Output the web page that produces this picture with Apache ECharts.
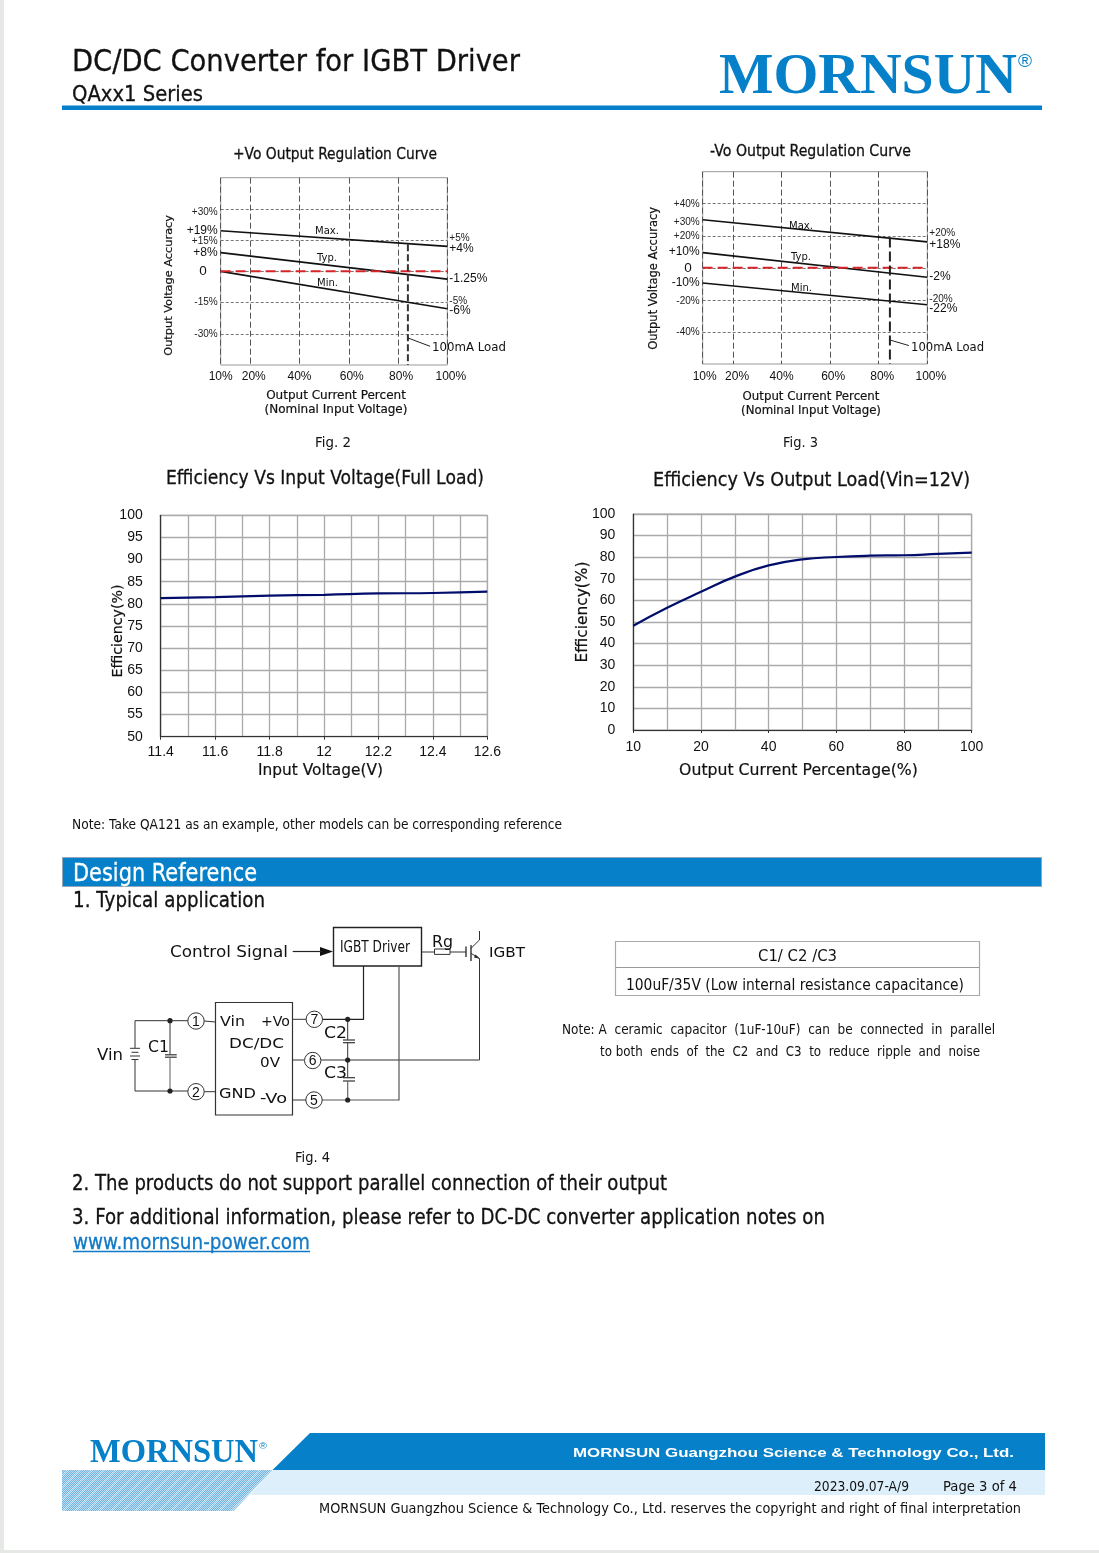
<!DOCTYPE html>
<html><head><meta charset="utf-8">
<style>html,body{margin:0;padding:0;background:#fff}#c{width:1099px;height:1553px}</style>
<script src="https://cdn.jsdelivr.net/npm/echarts@6/dist/echarts.min.js"></script>
</head><body><div id="c"></div>
<script>
// ---------- data ----------
const plusX = [8, 100];
const plusMax = [19.5, 12];
const plusTyp = [9, -3.75];
const plusMin = [0, -18];
const plusZero = [0, 0];
const plusLoadX = [84, 84];
const plusLoadY = [13, -45];
const plusLeaderX = [84, 93];
const plusLeaderY = [-32, -36];
const plusGridX = [8, 20, 40, 60, 80, 100];
const plusGridY = [-30, -15, 0, 15, 30];
const plusLeftAt = [28.6, 19.7, 14.6, 8.9, 0, -15, -30];
const plusLeftText = ['+30%', '+19%', '+15%', '+8%', '0', '-15%', '-30%'];
const plusRightAt = [15.9, 10.7, -3.6, -14.6, -19];
const plusRightText = ['+5%', '+4%', '-1.25%', '-5%', '-6%'];

const minusX = [7.5, 100];
const minusMax = [30, 16.2];
const minusTyp = [9.5, -5.9];
const minusMin = [-9.5, -23];
const minusZero = [0, 0];
const minusLoadX = [84.6, 84.6];
const minusLoadY = [19, -60];
const minusLeaderX = [84.6, 92.4];
const minusLeaderY = [-45, -48.5];
const minusGridX = [7.5, 20, 40, 60, 80, 100];
const minusGridY = [-40, -20, 0, 20, 40];
const minusLeftAt = [40, 28.6, 19.8, 10.3, 0, -9.2, -21, -40];
const minusLeftText = ['+40%', '+30%', '+20%', '+10%', '0', '-10%', '-20%', '-40%'];
const minusRightAt = [21.4, 14.6, -5.7, -19.5, -25.5];
const minusRightText = ['+20%', '+18%', '-2%', '-20%', '-22%'];

const vinX = [11.4, 11.6, 11.8, 12, 12.2, 12.4, 12.6];
const vinEff = [81.3, 81.5, 81.85, 82.05, 82.35, 82.45, 82.75];
const loadX = [0, 10, 20, 30, 40, 50, 60, 70, 80, 90, 100];
const loadEff = [48.3, 56.6, 64, 71, 76.2, 79, 80.1, 80.7, 80.9, 81.5, 82.1];

// ---------- helpers ----------
const FONT = 'DejaVu Sans', NUM = 'Liberation Sans', SERIF = 'Liberation Serif';
const BLUE = '#0680c9', INK = '#111';
const mctx = document.createElement('canvas').getContext('2d');
function measure(t, size, fam, w){ mctx.font = (w||'normal')+' '+size+'px "'+fam+'"'; return mctx.measureText(t).width; }
function fit(t, width, fam){ return width / measure(t, 100, fam||FONT) * 100; }
const g = [];
function T(t, x1, x2, cy, size, o){
  o = o || {};
  const fam = o.fam || FONT, fw = o.w || 'normal', col = o.c || INK;
  g.push({type:'text', x:x1, y:cy+4, scaleX:(x2-x1)/measure(t,size,fam,fw), silent:true, z:10,
    style:{text:t, font:fw+' '+size+'px "'+fam+'"', fill:col, align:'left', verticalAlign:'middle',
      stroke: fam===FONT && size>15.5 ? col : null, lineWidth: fam===FONT && size>15.5 ? 0.3 : 0}});
}
function L(pts, c, w, dash){
  g.push({type:'polyline', silent:true, z:9, shape:{points:pts}, style:{stroke:c||'#333', lineWidth:w||1, fill:null, lineDash:dash||null}});
}
function R(x,y,w,h,fill,stroke,lw){
  g.push({type:'rect', silent:true, z:8, shape:{x,y,width:w,height:h}, style:{fill:fill||'none', stroke:stroke||null, lineWidth:lw||1}});
}
function P(pts, fill){ g.push({type:'polygon', silent:true, z:8, shape:{points:pts}, style:{fill}}); }
function dot(x,y){ g.push({type:'circle', silent:true, z:10, shape:{cx:x,cy:y,r:2.6}, style:{fill:'#222'}}); }
function pin(x,y,n){
  g.push({type:'circle', silent:true, z:10, shape:{cx:x,cy:y,r:8.2}, style:{fill:'#fff', stroke:'#333', lineWidth:1}});
  g.push({type:'text', x, y:y+1, silent:true, z:11, style:{text:n, font:'14px "'+NUM+'"', fill:INK, align:'center', verticalAlign:'middle'}});
}
function pairs(a,b){ return a.map((v,i)=>[v,b[i]]); }
function hatch(){
  const c = document.createElement('canvas'); c.width = c.height = 12;
  const x = c.getContext('2d');
  for(let i=0;i<12;i++) for(let j=0;j<12;j++){
    const band = (i+j)%12 < 3;
    x.fillStyle = (i+j)%2 ? (band?'#8cc2e6':'#74b5e0') : (band?'#d2e8f6':'#bcdcf1');
    x.fillRect(i,j,1,1);
  }
  return c;
}

// ---------- page furniture ----------
R(0,0,4,1553,'#e6e8e6'); R(0,1550,1099,3,'#e6e8e6');
T('DC/DC Converter for IGBT Driver',72,520,59.5,30);
T('QAxx1 Series',72,203,92,21);
R(62,105.5,980,4.5,BLUE);
T('MORNSUN',719,1017,74.5,58,{fam:SERIF,w:'bold',c:BLUE});
T('®',1018,1032,58,18,{fam:NUM,c:BLUE});
T('+Vo Output Regulation Curve',233,437,150.5,16);
T('-Vo Output Regulation Curve',710,911,147.5,16);
T('Fig. 2',315,351,439.5,14);
T('Fig. 3',783,818,439.5,14);
T('Efficiency Vs Input Voltage(Full Load)',166,484,474.5,20);
T('Efficiency Vs Output Load(Vin=12V)',653,970,476.5,20);
T('Max.',315,339,227.5,10.5); T('Typ.',317,337,254.5,10.5); T('Min.',317,338,279,10.5);
T('Max.',789,813,222.5,10.5); T('Typ.',791,811,253,10.5); T('Min.',791,812,284,10.5);
T('100mA Load',432,506,343.5,12.5); T('100mA Load',911,984,344,12.5);
T('Note: Take QA121 as an example, other models can be corresponding reference',72,562,821.5,14);
R(62.5,857.5,979,29,BLUE,'#8fa9bb',1);
T('Design Reference',73,257,871,24,{c:'#fff'});
T('1. Typical application',73,265,898,21);

// table
R(615.5,941.5,364,54,'#fff','#aaa',1.2); L([[615.5,967.5],[979.5,967.5]],'#999',1);
T('C1/ C2 /C3',758,837,952.5,15.5);
T('100uF/35V (Low internal resistance capacitance)',626,964,981.5,15.5);
T('Note: A  ceramic  capacitor  (1uF-10uF)  can  be  connected  in  parallel',562,995,1026,13.5);
T('to both  ends  of  the  C2  and  C3  to  reduce  ripple  and  noise',600,980,1048.5,13.5);

// circuit
const W='#333';
R(333.5,927.5,88,38.5,'#fff','#222',1.4);
T('IGBT Driver',340,410,944.5,15);
T('Control Signal',170,288,948.5,15.5);
L([[292.7,951.5],[322,951.5]],'#222',1.2); P([[320,947],[333,951.5],[320,956]],'#111');
T('Rg',432,453,939.5,15);
L([[421,952],[434,952]],W); R(434.5,949,15.5,5.4,'#fff',W,1); L([[450,952],[466,952]],W);
L([[466,946.5],[466,957]],W,1.4); L([[471,945],[471,961]],W,1.4);
L([[471,948.3],[479.5,940],[479.5,931]],W); L([[471,953.3],[479.5,958.5],[479.5,1060],[347.7,1060]],W);
P([[479.8,958.7],[474,957.6],[475.6,954.6]],'#222');
T('IGBT',489,525,949.5,14.5);
R(215.5,1002.5,77,112.5,'#fff','#333',1.2);
T('Vin',220,245,1018.5,14.5); T('+Vo',261,290,1018.5,14.5); T('DC/DC',229,284,1040.5,14.5); T('0V',260,280,1059,14.5);
T('GND',219,256,1090.5,14.5); T('-Vo',260,287,1095.5,14.5);
T('Vin',97,123,1052.5,15); T('C1',148,169,1044,15); T('C2',324,347,1030.5,15); T('C3',324,347,1070,15);
L([[170,1020.7],[135,1020.7],[135,1048]],W); L([[135,1059.5],[135,1091],[170,1091]],W);
L([[130,1048.3],[140,1048.3]],W); L([[131.5,1052.3],[138.5,1052.3]],W); L([[130,1056],[140,1056]],W); L([[131.5,1059.5],[138.5,1059.5]],W);
L([[170,1020.7],[170,1054.5]],W); L([[165,1054.8],[176.7,1054.8]],W,1.2); L([[165,1057.2],[176.7,1057.2]],W,1.2); L([[170,1057.5],[170,1091]],'#777',1.2);
L([[170,1020.7],[188,1020.7]],W); L([[170,1091],[188,1091]],W);
L([[204,1021],[215.5,1022]],W); L([[204,1091.7],[215.5,1091.7]],W);
L([[292.5,1019.3],[306,1019.3]],W); L([[292.5,1060],[304,1060]],W); L([[292.5,1100],[306,1100]],W);
L([[322,1019.3],[363.5,1019.3],[363.5,966]],'#222',1.2);
L([[347.7,1019.3],[347.7,1039.8]],W); L([[343,1040],[355,1040]],W,1.2); L([[343,1042.7],[355,1042.7]],W,1.2); L([[347.7,1043],[347.7,1077.5]],W);
L([[343,1077.7],[355,1077.7]],W,1.2); L([[343,1081],[355,1081]],W,1.2); L([[347.7,1081.3],[347.7,1100]],'#666',1.2);
L([[321,1100],[399,1100],[399,966]],'#555',1.2); L([[321,1060],[347.7,1060]],W);
dot(170,1020.7); dot(170,1091); dot(347.7,1019.3); dot(347.7,1060); dot(347.7,1100);
pin(196,1021,'1'); pin(196,1091.7,'2'); pin(314.3,1019.3,'7'); pin(312.7,1060.5,'6'); pin(314,1100,'5');
T('Fig. 4',295,330,1154.5,14);

T('2. The products do not support parallel connection of their output',72,667,1180.5,20.5);
T('3. For additional information, please refer to DC-DC converter application notes on',72,825,1214.5,20.5);
T('www.mornsun-power.com',73,310,1239.5,20.5,{c:'#1279c6'});
L([[73,1251.5],[310,1251.5]],'#1279c6',1.3);

// footer
P([[310,1433],[1045,1433],[1045,1470],[272.5,1470]],BLUE);
P([[272.5,1470],[1045,1470],[1045,1495],[250,1495]],'#ddeffa');
g.push({type:'polygon', silent:true, z:8, shape:{points:[[62,1470],[272.5,1470],[233.5,1511],[62,1511]]}, style:{fill:{image:hatch(), repeat:'repeat'}}});
T('MORNSUN',90,258,1449.5,33,{fam:SERIF,w:'bold',c:BLUE});
T('®',259,267,1442.5,9,{fam:NUM,c:BLUE});
T('MORNSUN Guangzhou Science & Technology Co., Ltd.',573,1014,1449.5,13,{fam:NUM,w:'bold',c:'#fff'});
T('2023.09.07-A/9',814,909,1483,14.5);
T('Page 3 of 4',943,1017,1483,14.5);
T('MORNSUN Guangzhou Science & Technology Co., Ltd. reserves the copyright and right of final interpretation',319,1021,1505,14.5);

// ---------- chart option ----------
const regRich = {};
[0,4,6,7,8].forEach(p=>{ regRich['p'+p] = {fontFamily:NUM, fontSize:12, color:INK, padding:[0,0,0,p]}; });
function sizes(zeroPad){ return {
  big:{fontFamily:NUM,fontSize:12,color:INK},
  small:{fontFamily:NUM,fontSize:10,color:'#222'},
  zero:{fontFamily:NUM,fontSize:13.5,color:INK,padding:[0,zeroPad,0,0]}}; }
const smalls = ['+30%','+15%','-15%','-30%','+5%','-5%','+40%','-40%'];
function labelMap(at, text){ const m = {}; at.forEach((v,i)=>{ m[String(v)] = text[i]; }); return m; }
function yLab(at, text, small){
  const map = labelMap(at, text);
  return v => {
    const t = map[String(v)];
    if(t===undefined) return '';
    if(t==='0') return '{zero|0}';
    return (small.includes(t)?'{small|':'{big|')+t+'}';
  };
}
// empty end labels keep the min/max overlap rule away from the real labels
function ends(at, maxY){ return [-maxY].concat(at.slice().sort((a,b)=>a-b), [maxY]); }
function regAxes(idx, gridX, gridY, minX, maxY, lAt, lTx, rAt, rTx, xFmt, xMargin, zeroPad){
  const none = {show:false};
  const ySmall = smalls.concat(idx===1 ? ['+20%','-20%'] : []);
  return {
    x:{gridIndex:idx, type:'value', min:minX, max:100, axisLine:none,
      axisTick:{show:false, customValues:gridX},
      axisLabel:{customValues:gridX, margin:xMargin, formatter:xFmt, rich:regRich, hideOverlap:false, showMinLabel:true, showMaxLabel:true},
      splitLine:{show:true, lineStyle:{color:'#555', width:1, type:[6,3]}},
      name:'Output Current Percent\n(Nominal Input Voltage)', nameLocation:'middle'},
    y:[{gridIndex:idx, type:'value', min:-maxY, max:maxY, axisLine:none,
      axisTick:{show:false, customValues:gridY},
      axisLabel:{customValues:ends(lAt,maxY), margin:3, formatter:yLab(lAt,lTx,ySmall), rich:sizes(zeroPad), hideOverlap:false},
      splitLine:{show:true, lineStyle:{color:'#777', width:1, type:[3,2]}},
      name:'Output Voltage Accuracy', nameLocation:'middle'},
     {gridIndex:idx, type:'value', position:'right', min:-maxY, max:maxY, axisLine:none,
      axisTick:{show:false},
      axisLabel:{customValues:ends(rAt,maxY), margin:2, formatter:yLab(rAt,rTx,ySmall), rich:sizes(0), hideOverlap:false},
      splitLine:{show:false}}]
  };
}
const plusFmt = v => ({8:'{p0|10%}',20:'{p7|20%}',40:'{p0|40%}',60:'{p6|60%}',80:'{p6|80%}',100:'{p7|100%}'})[v]||'';
const minusFmt = v => ({7.5:'{p4|10%}',20:'{p8|20%}',40:'{p0|40%}',60:'{p6|60%}',80:'{p7|80%}',100:'{p7|100%}'})[v]||'';
const a0 = regAxes(0, plusGridX, plusGridY, 8, 45, plusLeftAt, plusLeftText, plusRightAt, plusRightText, plusFmt, 6, 11);
const a1 = regAxes(1, minusGridX, minusGridY, 7.5, 60, minusLeftAt, minusLeftText, minusRightAt, minusRightText, minusFmt, 6.5, 8);
function nameStyle(t, width, pad){ return {fontFamily:FONT, fontSize:fit(t,width), color:INK, padding:pad, lineHeight:14, textBorderColor:INK, textBorderWidth:0.2}; }
a0.x.nameGap = 24; a0.x.nameTextStyle = nameStyle('Output Current Percent',140,[0,0,0,4]);
a1.x.nameGap = 26; a1.x.nameTextStyle = nameStyle('Output Current Percent',137,[0,8,0,0]);
a0.y[0].nameGap = 45; a0.y[0].nameTextStyle = nameStyle('Output Voltage Accuracy',141,[0,28,0,0]);
a1.y[0].nameGap = 42; a1.y[0].nameTextStyle = nameStyle('Output Voltage Accuracy',143,[0,21,0,0]);

function effX(idx, min, max, interval, minorN, fmt, name, width, pad, margin, gap){
  return {gridIndex:idx, type:'value', min, max, interval,
    minorSplitLine:{show:true, lineStyle:{color:'#aaa', width:1.3}}, minorTick:{show:false, splitNumber:minorN},
    axisLine:{lineStyle:{color:'#333', width:1.2}}, axisTick:{show:true, length:3, inside:false, lineStyle:{color:'#333'}},
    splitLine:{show:true, lineStyle:{color:'#aaa', width:1.3}},
    axisLabel:{fontFamily:NUM, fontSize:14, color:INK, margin, formatter:fmt, showMinLabel:true, showMaxLabel:true},
    name, nameLocation:'middle', nameGap:gap, nameTextStyle:nameStyle(name,width,pad)};
}
function effY(idx, min, max, interval, name, width, gap, pad){
  return {gridIndex:idx, type:'value', min, max, interval,
    axisLine:{show:true, lineStyle:{color:'#333', width:1.2}}, axisTick:{show:false},
    splitLine:{show:true, lineStyle:{color:'#aaa', width:1.3}},
    axisLabel:{fontFamily:NUM, fontSize:14, color:INK, margin:18},
    name, nameLocation:'middle', nameGap:gap, nameMoveOverlap:false, nameTextStyle:nameStyle(name,width,pad)};
}
function ln(name,x,y,xi,yi,color,width,dash,smooth){
  return {type:'line', name, xAxisIndex:xi, yAxisIndex:yi, data:pairs(x,y), showSymbol:false, symbol:'none', silent:true,
    smooth:!!smooth, animation:false, z:3, lineStyle:{color, width, type:dash||'solid'}};
}

const option = {
  animation:false, backgroundColor:'#fff', tooltip:{show:false}, legend:{show:false},
  grid:[
    {left:220.7, top:177.7, width:226.6, height:187.3, show:true, borderColor:'#999', borderWidth:1, backgroundColor:'transparent'},
    {left:702.7, top:171.7, width:224.6, height:192.3, show:true, borderColor:'#999', borderWidth:1, backgroundColor:'transparent'},
    {left:160.7, top:515.3, width:326.6, height:221.4, show:true, borderColor:'#999', borderWidth:1, backgroundColor:'transparent'},
    {left:633.3, top:514, width:338.4, height:216, show:true, borderColor:'#999', borderWidth:1, backgroundColor:'transparent'}
  ],
  xAxis:[a0.x, a1.x,
    effX(2, 11.4, 12.6, 0.2, 2, v=>String(+v.toFixed(1)), 'Input Voltage(V)', 125, [0,7,0,0], 8, 27),
    effX(3, 0, 100, 20, 2, v=>v===0?'10':String(v), 'Output Current Percentage(%)', 239, [0,8,0,0], 10, 34)],
  yAxis:[a0.y[0], a0.y[1], a1.y[0], a1.y[1],
    effY(2, 50, 100, 5, 'Efficiency(%)', 93, 35, [0,10,0,0]),
    effY(3, 0, 100, 10, 'Efficiency(%)', 101, 43, [0,0,0,20])],
  series:[
    ln('+Vo Max',plusX,plusMax,0,0,'#111',1.6),
    ln('+Vo Typ',plusX,plusTyp,0,0,'#111',1.6),
    ln('+Vo Min',plusX,plusMin,0,0,'#111',1.6),
    ln('+Vo zero',plusX,plusZero,0,0,'#d9232a',2,[10,5]),
    ln('+Vo 100mA',plusLoadX,plusLoadY,0,0,'#333',2,[7,3]),
    ln('+Vo leader',plusLeaderX,plusLeaderY,0,0,'#222',1),
    ln('-Vo Max',minusX,minusMax,1,2,'#111',1.6),
    ln('-Vo Typ',minusX,minusTyp,1,2,'#111',1.6),
    ln('-Vo Min',minusX,minusMin,1,2,'#111',1.6),
    ln('-Vo zero',minusX,minusZero,1,2,'#d9232a',2,[10,5]),
    ln('-Vo 100mA',minusLoadX,minusLoadY,1,2,'#222',2,[10,4]),
    ln('-Vo leader',minusLeaderX,minusLeaderY,1,2,'#222',1),
    ln('Efficiency vs Vin',vinX,vinEff,2,4,'#000d6b',2.2,null,true),
    ln('Efficiency vs Load',loadX,loadEff,3,5,'#000d6b',2.2,null,true)
  ],
  graphic:{elements:g}
};
const chart = echarts.init(document.getElementById('c'), null, {renderer:'canvas', width:1099, height:1553});
chart.setOption(option);
</script></body></html>
